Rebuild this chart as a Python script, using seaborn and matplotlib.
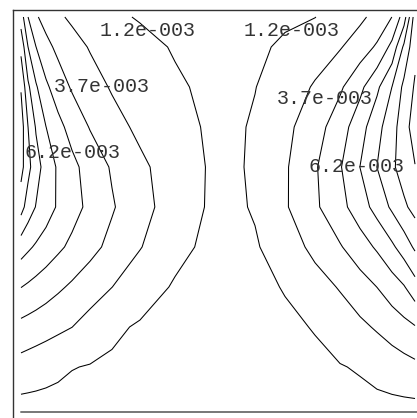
import matplotlib
matplotlib.use("Agg")
import matplotlib.pyplot as plt
import numpy as np
import seaborn as sns

# grid positions (pixel-like units, y grows downward)
x_cols = [0, 7, 15, 25, 37, 51, 69, 91, 119, 154, 189, 209, 234, 264, 294, 319, 339, 356, 371, 383, 394]
y_rows = [0, 30, 70, 110, 150, 190, 230, 270, 310, 350, 388]

# field values, in units of 1e-3
z_rows = [
    [12.5, 8.72, 6.48, 5.3, 4.1, 3.28, 2.53, 1.62, 1.03, 0.71, 0.39, 0.39, 0.62, 0.89, 1.16, 2.2, 3.2, 4.5, 6.22, 9.95, 17.5],
    [15.5, 11.22, 8.72, 6.91, 5.63, 4.63, 3.53, 2.8, 1.87, 1.02, 0.58, 0.48, 0.86, 1.49, 2.6, 3.52, 4.95, 6.53, 9.41, 14.2, 18.0],
    [18.5, 14.2, 11.5, 9.15, 7.45, 5.93, 4.71, 3.48, 2.61, 1.51, 0.76, 0.61, 1.14, 2.45, 3.93, 5.82, 8.08, 10.7, 13.72, 16.8, 19.0],
    [20.0, 16.22, 13.47, 11.22, 9.44, 7.8, 6.06, 4.58, 3.18, 1.96, 0.92, 0.72, 1.47, 3.06, 5.15, 7.56, 10.17, 12.87, 15.26, 17.56, 20.0],
    [19.6, 16.95, 14.7, 12.7, 10.87, 9.35, 7.7, 5.95, 4.2, 2.47, 1.01, 0.73, 1.57, 3.4, 5.93, 8.49, 11.22, 13.72, 15.78, 17.28, 18.6],
    [17.2, 15.05, 13.58, 12.33, 10.92, 9.63, 8.09, 6.43, 4.56, 2.53, 0.95, 0.73, 1.4, 3.43, 5.8, 7.92, 10.01, 12.12, 14.12, 15.78, 17.0],
    [12.3, 11.6, 10.89, 10.11, 9.17, 8.16, 6.94, 5.53, 3.82, 1.83, 0.71, 0.5, 0.97, 2.38, 4.36, 6.0, 7.57, 9.04, 10.75, 12.38, 14.1],
    [8.75, 8.34, 7.88, 7.3, 6.6, 5.83, 4.87, 3.72, 2.24, 0.98, 0.45, 0.44, 0.8, 1.29, 2.68, 3.89, 5.14, 6.22, 7.49, 8.53, 10.2],
    [5.5, 5.25, 4.97, 4.62, 4.19, 3.72, 2.74, 1.57, 0.98, 0.62, 0.25, 0.35, 0.61, 0.91, 1.28, 2.34, 3.19, 3.97, 4.79, 5.45, 6.05],
    [2.72, 2.52, 2.3, 2.02, 1.68, 1.28, 1.08, 0.91, 0.69, 0.41, 0.14, 0.22, 0.42, 0.65, 0.89, 1.09, 1.39, 1.93, 2.41, 2.79, 3.14],
    [0.6, 0.58, 0.56, 0.53, 0.49, 0.44, 0.38, 0.31, 0.23, 0.14, 0.05, 0.09, 0.19, 0.31, 0.44, 0.54, 0.62, 0.68, 0.73, 0.77, 0.8],
]

levels = [1.2e-3, 3.7e-3, 6.2e-3, 8.7e-3, 11.2e-3, 13.7e-3, 16.2e-3, 18.7e-3]

label_values = [1.2e-3, 1.2e-3, 3.7e-3, 3.7e-3, 6.2e-3, 6.2e-3]
label_pos = [(127, 14), (271, 14), (81, 69), (304, 82), (52, 136), (336, 149)]


def matlab_fmt(v):
    mant, exp = f"{v:.1e}".split("e")
    return f"{mant}e{int(exp):+04d}"


sns.set_theme(style="white")
plt.rcParams["font.family"] = ["Liberation Mono", "DejaVu Sans Mono"]

X, Y = np.meshgrid(x_cols, y_rows)
Z = np.array(z_rows) * 1e-3

fig = plt.figure(figsize=(4.17, 4.18), dpi=100)
ax = fig.add_axes([13 / 417, 0, 404 / 417, 408 / 418])

ax.contour(X, Y, Z, levels=levels, colors="black", linewidths=0.75)

for v, (tx, ty) in zip(label_values, label_pos):
    ax.text(tx, ty, matlab_fmt(v), ha="center", va="center", fontsize=14.4, color="#333333")

# baseline under the field
ax.axhline(395, xmin=8 / 404, xmax=1, color="#777777", linewidth=1.4)

ax.set_xlim(-8, 396)
ax.set_ylim(401, -7)
ax.set_xticks([])
ax.set_yticks([])
for side in ["right", "bottom"]:
    ax.spines[side].set_visible(False)
for side in ["left", "top"]:
    ax.spines[side].set_color("#333333")
    ax.spines[side].set_linewidth(1.0)

fig.savefig("out.png", dpi=100)
